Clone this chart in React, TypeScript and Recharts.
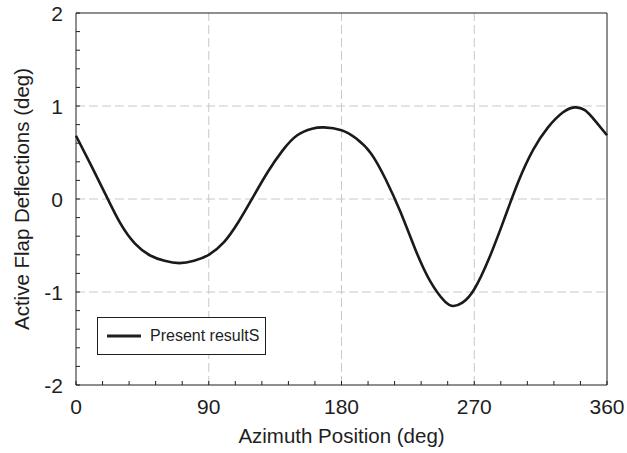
import React from 'react';
import { LineChart, Line, XAxis, YAxis, ReferenceLine, Legend } from 'recharts';

const azimuth = [0, 10, 20, 30, 40, 50, 60, 70, 80, 90, 100, 110, 120, 130, 140, 150, 160, 168, 180, 190, 200, 210, 220, 230, 240, 250, 256, 262, 270, 280, 290, 300, 310, 320, 330, 338, 345, 352, 360];
const deflection = [0.68, 0.37, 0.05, -0.26, -0.48, -0.605, -0.665, -0.69, -0.665, -0.6, -0.47, -0.25, 0.02, 0.29, 0.52, 0.685, 0.755, 0.77, 0.74, 0.65, 0.49, 0.21, -0.14, -0.54, -0.88, -1.1, -1.15, -1.115, -0.97, -0.64, -0.23, 0.19, 0.53, 0.77, 0.93, 0.985, 0.955, 0.84, 0.685];

const xTicks = [0, 18, 36, 54, 72, 90, 108, 126, 144, 162, 180, 198, 216, 234, 252, 270, 288, 306, 324, 342, 360];
const xMajor = [90, 180, 270];
const yTicks = [-2, -1.8, -1.6, -1.4, -1.2, -1, -0.8, -0.6, -0.4, -0.2, 0, 0.2, 0.4, 0.6, 0.8, 1, 1.2, 1.4, 1.6, 1.8, 2];
const yMajor = [-1, 0, 1];

const seriesName = 'Present resultS';
const xTitle = 'Azimuth Position (deg)';
const yTitle = 'Active Flap Deflections (deg)';

const data = azimuth.map((a, i) => ({ az: a, val: deflection[i] }));

const FONT = '"Liberation Sans", Arial, Helvetica, sans-serif';
const INK = '#1e1e1e';
const TICK_LEN = 4;

const isMajorX = (v: number) => Math.abs(v % 90) < 1e-9;
const isMajorY = (v: number) => Math.abs(v - Math.round(v)) < 1e-9;

const XTick = (props: any) => {
  const { x, y, payload } = props;
  const v = payload.value as number;
  return (
    <g>
      <line x1={x} y1={y} x2={x} y2={y - TICK_LEN} stroke={INK} strokeWidth={1} />
      {isMajorX(v) ? (
        <text x={x} y={y + 29} textAnchor="middle" fontFamily={FONT} fontSize={21} fill={INK}>
          {String(v)}
        </text>
      ) : null}
    </g>
  );
};

const YTick = (props: any) => {
  const { x, y, payload } = props;
  const v = payload.value as number;
  return (
    <g>
      <line x1={x} y1={y} x2={x + TICK_LEN} y2={y} stroke={INK} strokeWidth={1} />
      {isMajorY(v) ? (
        <text x={x - 13} y={y + 7.5} textAnchor="end" fontFamily={FONT} fontSize={21} fill={INK}>
          {String(Math.round(v))}
        </text>
      ) : null}
    </g>
  );
};

const XTitle = (props: any) => {
  const vb = props.viewBox || {};
  return (
    <text x={vb.x + vb.width / 2} y={vb.y + vb.height - 10} textAnchor="middle" fontFamily={FONT} fontSize={20.5} fill={INK}>
      {xTitle}
    </text>
  );
};

const YTitle = (props: any) => {
  const vb = props.viewBox || {};
  const cx = vb.x + 28.5;
  const cy = vb.y + vb.height / 2;
  return (
    <text x={cx} y={cy} transform={`rotate(-90 ${cx} ${cy})`} textAnchor="middle" fontFamily={FONT} fontSize={20.5} fill={INK}>
      {yTitle}
    </text>
  );
};

const LegendBox = () => (
  <div
    style={{
      boxSizing: 'border-box',
      width: 169,
      height: 38,
      border: `1px solid ${INK}`,
      background: '#fff',
      display: 'flex',
      alignItems: 'center',
      fontFamily: FONT,
      fontSize: 16,
      color: INK,
    }}
  >
    <svg width={52} height={36} style={{ display: 'block', flex: 'none' }}>
      <line x1={9} y1={18} x2={43} y2={18} stroke={INK} strokeWidth={3} />
    </svg>
    <span style={{ whiteSpace: 'nowrap' }}>{seriesName}</span>
  </div>
);

export default function App() {
  return (
    <div style={{ position: 'absolute', left: 0, top: 0, width: 627, height: 453, background: '#fff' }}>
      <LineChart width={627} height={453} data={data} margin={{ top: 13, right: 20, bottom: 0, left: 0 }}>
        <XAxis
          type="number"
          dataKey="az"
          domain={[0, 360]}
          ticks={xTicks}
          interval={0}
          tickSize={0}
          tickMargin={0}
          height={68}
          axisLine={{ stroke: INK, strokeWidth: 1 }}
          tickLine={false}
          tick={<XTick />}
          label={{ content: <XTitle /> }}
        />
        <YAxis
          type="number"
          domain={[-2, 2]}
          ticks={yTicks}
          interval={0}
          tickSize={0}
          tickMargin={0}
          width={76}
          axisLine={{ stroke: INK, strokeWidth: 1 }}
          tickLine={false}
          tick={<YTick />}
          label={{ content: <YTitle /> }}
        />
        {xMajor.map((v) => (
          <ReferenceLine key={'gx' + v} x={v} stroke="#c8c8c8" strokeDasharray="9 4" strokeWidth={1} />
        ))}
        {yMajor.map((v) => (
          <ReferenceLine key={'gy' + v} y={v} stroke="#c8c8c8" strokeDasharray="9 4" strokeWidth={1} />
        ))}
        <ReferenceLine y={2} stroke={INK} strokeWidth={1} />
        <ReferenceLine x={360} stroke={INK} strokeWidth={1} />
        <Legend
          layout="horizontal"
          align="center"
          verticalAlign="middle"
          content={<LegendBox />}
          wrapperStyle={{ left: 97, top: 317, width: 169, height: 38 }}
        />
        <Line
          type="natural"
          dataKey="val"
          name={seriesName}
          stroke="#1a1a1a"
          strokeWidth={2.6}
          dot={false}
          activeDot={false}
          isAnimationActive={false}
        />
      </LineChart>
    </div>
  );
}
